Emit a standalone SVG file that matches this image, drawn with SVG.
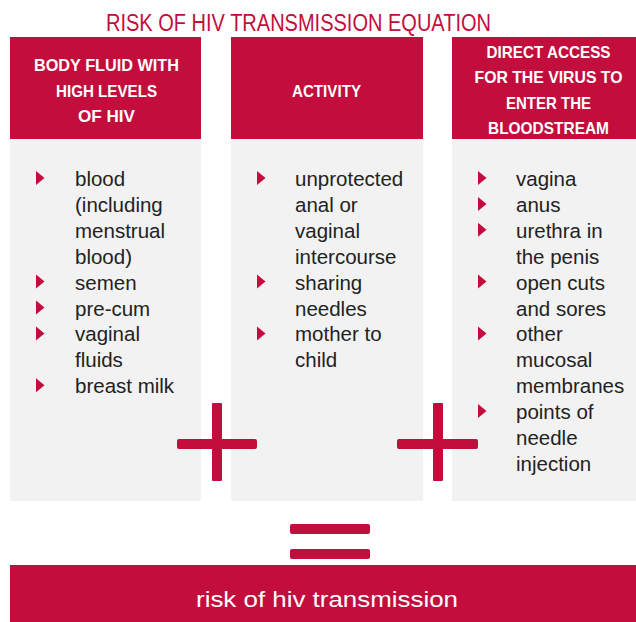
<svg xmlns="http://www.w3.org/2000/svg" xmlns:xlink="http://www.w3.org/1999/xlink" width="636" height="622" viewBox="0 0 636 622">
<style>
.red{fill:#C20D3D}
.gray{fill:#F2F2F2}
.title{font-family:"Liberation Sans",Arial,sans-serif;font-size:23px;fill:#C20D3D;text-anchor:middle}
.hd{font-family:"Liberation Sans",Arial,sans-serif;font-size:17px;font-weight:bold;fill:#FFFFFF;text-anchor:middle}
.bd{font-family:"Liberation Sans",Arial,sans-serif;font-size:20.5px;fill:#222222}
.res{font-family:"Liberation Sans",Arial,sans-serif;font-size:22px;fill:#FFFFFF;text-anchor:middle}
</style>
<defs>
<path id="bul" d="M0,-15 L8.5,-8 L0,-1 Z" fill="#C20D3D"/>
</defs>
<rect width="636" height="622" fill="#FFFFFF"/>
<text id="title" class="title" x="298.5" y="30.5" textLength="385" lengthAdjust="spacingAndGlyphs">RISK OF HIV TRANSMISSION EQUATION</text>

<g id="col-fluid">
<rect class="red" x="10" y="37" width="191" height="102"/>
<rect class="gray" x="10" y="139" width="191" height="362"/>
<text class="hd" x="106.5" y="71" textLength="145" lengthAdjust="spacingAndGlyphs">BODY FLUID WITH</text>
<text class="hd" x="106.5" y="96.5" textLength="101" lengthAdjust="spacingAndGlyphs">HIGH LEVELS</text>
<text class="hd" x="106.5" y="122" textLength="57" lengthAdjust="spacingAndGlyphs">OF HIV</text>
<use xlink:href="#bul" x="36" y="186"/>
<use xlink:href="#bul" x="36" y="289.6"/>
<use xlink:href="#bul" x="36" y="315.5"/>
<use xlink:href="#bul" x="36" y="341.4"/>
<use xlink:href="#bul" x="36" y="393.2"/>
<text class="bd" x="75" y="186">blood</text>
<text class="bd" x="75" y="211.9">(including</text>
<text class="bd" x="75" y="237.8">menstrual</text>
<text class="bd" x="75" y="263.7">blood)</text>
<text class="bd" x="75" y="289.6">semen</text>
<text class="bd" x="75" y="315.5">pre-cum</text>
<text class="bd" x="75" y="341.4">vaginal</text>
<text class="bd" x="75" y="367.3">fluids</text>
<text class="bd" x="75" y="393.2">breast milk</text>
</g>

<g id="col-activity">
<rect class="red" x="231" y="37" width="192" height="102"/>
<rect class="gray" x="231" y="139" width="192" height="362"/>
<text class="hd" x="326.5" y="96.5" textLength="69" lengthAdjust="spacingAndGlyphs">ACTIVITY</text>
<use xlink:href="#bul" x="257" y="186"/>
<use xlink:href="#bul" x="257" y="289.6"/>
<use xlink:href="#bul" x="257" y="341.4"/>
<text class="bd" x="295" y="186">unprotected</text>
<text class="bd" x="295" y="211.9">anal or</text>
<text class="bd" x="295" y="237.8">vaginal</text>
<text class="bd" x="295" y="263.7">intercourse</text>
<text class="bd" x="295" y="289.6">sharing</text>
<text class="bd" x="295" y="315.5">needles</text>
<text class="bd" x="295" y="341.4">mother to</text>
<text class="bd" x="295" y="367.3">child</text>
</g>

<g id="col-access">
<rect class="red" x="452" y="37" width="191" height="102"/>
<rect class="gray" x="452" y="139" width="191" height="362"/>
<text class="hd" x="548.5" y="57.5" textLength="124" lengthAdjust="spacingAndGlyphs">DIRECT ACCESS</text>
<text class="hd" x="548.5" y="83" textLength="148" lengthAdjust="spacingAndGlyphs">FOR THE VIRUS TO</text>
<text class="hd" x="548.5" y="108.5" textLength="85" lengthAdjust="spacingAndGlyphs">ENTER THE</text>
<text class="hd" x="548.5" y="134" textLength="121" lengthAdjust="spacingAndGlyphs">BLOODSTREAM</text>
<use xlink:href="#bul" x="478" y="186"/>
<use xlink:href="#bul" x="478" y="211.9"/>
<use xlink:href="#bul" x="478" y="237.8"/>
<use xlink:href="#bul" x="478" y="289.6"/>
<use xlink:href="#bul" x="478" y="341.4"/>
<use xlink:href="#bul" x="478" y="419.1"/>
<text class="bd" x="516" y="186">vagina</text>
<text class="bd" x="516" y="211.9">anus</text>
<text class="bd" x="516" y="237.8">urethra in</text>
<text class="bd" x="516" y="263.7">the penis</text>
<text class="bd" x="516" y="289.6">open cuts</text>
<text class="bd" x="516" y="315.5">and sores</text>
<text class="bd" x="516" y="341.4">other</text>
<text class="bd" x="516" y="367.3">mucosal</text>
<text class="bd" x="516" y="393.2">membranes</text>
<text class="bd" x="516" y="419.1">points of</text>
<text class="bd" x="516" y="445">needle</text>
<text class="bd" x="516" y="470.9">injection</text>
</g>

<g id="operators">
<g id="plus1">
<rect class="red" x="177" y="439" width="80" height="10" rx="2"/>
<rect class="red" x="212" y="403" width="10" height="78" rx="1"/>
</g>
<g id="plus2">
<rect class="red" x="397" y="439" width="81" height="10" rx="2"/>
<rect class="red" x="433" y="403" width="10" height="78" rx="1"/>
</g>
<g id="equals">
<rect class="red" x="290" y="524" width="80" height="10" rx="2"/>
<rect class="red" x="290" y="549" width="80" height="10" rx="2"/>
</g>
</g>

<g id="result">
<rect class="red" x="10" y="565" width="633" height="57"/>
<text class="res" x="327" y="607" textLength="262" lengthAdjust="spacingAndGlyphs">risk of hiv transmission</text>
</g>
</svg>
